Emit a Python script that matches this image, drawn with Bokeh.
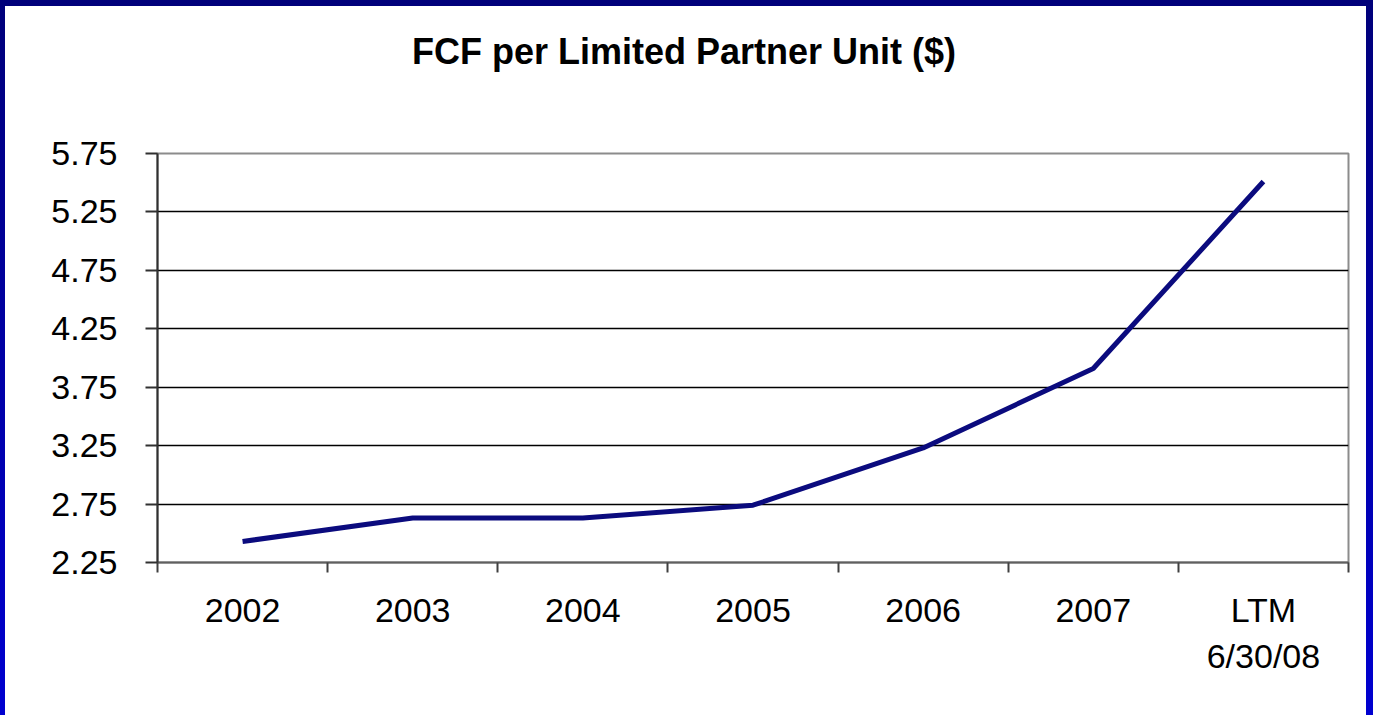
from bokeh.plotting import figure
from bokeh.models import FixedTicker, Range1d, ColumnDataSource, Div
from bokeh.layouts import column
from bokeh.embed import file_html
from bokeh.resources import INLINE

title_text = "FCF per Limited Partner Unit ($)"
categories = ["2002", "2003", "2004", "2005", "2006", "2007", "LTM\n6/30/08"]
fcf_per_unit = [2.43, 2.63, 2.63, 2.74, 3.23, 3.91, 5.51]
y_ticks = [2.25, 2.75, 3.25, 3.75, 4.25, 4.75, 5.25, 5.75]
y_min, y_max = 2.25, 5.75

n = len(categories)
xs = [i + 0.5 for i in range(n)]
src = ColumnDataSource(dict(x=xs, y=fcf_per_unit))

FONT = "Liberation Sans"

title = Div(
    text=(f'<div style="font-family:\'{FONT}\';font-size:36px;font-weight:bold;'
          f'color:black;line-height:43px;padding-top:24px;padding-left:407px;'
          f'white-space:nowrap;">{title_text}</div>'),
    width=1361, height=92, margin=0,
    styles={"background-color": "white"})

p = figure(width=1361, height=617, output_backend="svg", toolbar_location=None,
           x_range=Range1d(0, n), y_range=Range1d(y_min, y_max),
           min_border_left=152, min_border_right=18, min_border_top=55,
           min_border_bottom=153, margin=0)

p.background_fill_color = "white"
p.border_fill_color = "white"
p.outline_line_color = "#8c8c8c"
p.outline_line_width = 2

p.line("x", "y", source=src, line_color="#0b0b7e", line_width=5)

# x axis: labels at centres, ticks at category boundaries
xa = p.xaxis[0]
xa.ticker = FixedTicker(ticks=xs, minor_ticks=list(range(n + 1)))
xa.major_label_overrides = {x: c for x, c in zip(xs, categories)}
xa.major_tick_out = 0
xa.major_tick_in = 0
xa.minor_tick_out = 10
xa.minor_tick_in = 0
xa.minor_tick_line_color = "#404040"
xa.minor_tick_line_width = 2
xa.axis_line_color = "#606060"
xa.axis_line_width = 2
xa.major_label_text_font = FONT
xa.major_label_text_font_size = "34px"
xa.major_label_text_color = "black"
xa.major_label_text_line_height = 1.22
xa.major_label_standoff = 18

ya = p.yaxis[0]
ya.ticker = FixedTicker(ticks=y_ticks, minor_ticks=[])
ya.major_label_overrides = {t: f"{t:.2f}" for t in y_ticks}
ya.major_tick_out = 12
ya.major_tick_in = 0
ya.major_tick_line_color = "#303030"
ya.major_tick_line_width = 2
ya.axis_line_color = "#303030"
ya.axis_line_width = 2
ya.major_label_text_font = FONT
ya.major_label_text_font_size = "34px"
ya.major_label_text_color = "black"
ya.major_label_standoff = 28

p.xgrid.visible = False
p.ygrid.ticker = FixedTicker(ticks=y_ticks[1:-1], minor_ticks=[])
p.ygrid.grid_line_color = "black"
p.ygrid.grid_line_width = 1.5

inner = column(title, p, spacing=0, margin=0,
               styles={"background-color": "white"})
layout = column(inner, spacing=0, margin=0,
                styles={"background": "linear-gradient(to bottom, #00007a, #0000d0)",
                        "padding": "6px 7px 0px 5px"})

open("out.html", "w").write(file_html(layout, INLINE))
